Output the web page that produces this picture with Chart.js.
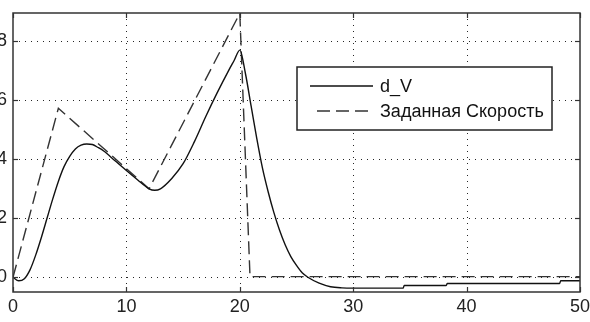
<!DOCTYPE html>
<html>
<head>
<meta charset="utf-8">
<script src="https://cdn.jsdelivr.net/npm/chart.js@4/dist/chart.umd.min.js"></script>
<style>
  html,body{margin:0;padding:0;background:#fff;overflow:hidden;width:590px;height:322px;}
  #wrap{position:absolute;left:-40px;top:0;width:660px;height:322px;}
</style>
</head>
<body>
<div id="wrap"><canvas id="c" width="660" height="322"></canvas></div>
<script>
// ---- data ----
const tSolid = [0,0.5,1,1.5,2,2.5,3,3.5,4,4.5,5,5.5,6,6.5,7,7.5,8,9,10,11,12,12.5,13,14,15,16,17,18,19,19.5,20,20.5,21,21.5,22,22.5,23,23.5,24,24.5,25,25.5,26,27,28,29,30,34.4,34.5,38.2,38.3,48.2,48.3,50];
const vSolid = [0,-0.012,-0.005,0.025,0.075,0.135,0.2,0.265,0.325,0.375,0.41,0.435,0.448,0.452,0.45,0.44,0.428,0.395,0.362,0.33,0.3,0.295,0.3,0.335,0.385,0.46,0.545,0.625,0.7,0.735,0.77,0.69,0.58,0.47,0.37,0.29,0.22,0.16,0.11,0.07,0.04,0.015,0.0,-0.02,-0.032,-0.036,-0.037,-0.037,-0.028,-0.028,-0.021,-0.021,-0.012,-0.012];
const tRef = [0,4,12,20,20.9,50];
const vRef = [0.0,0.573,0.3,0.895,0.002,0.002];
const seriesLabels = ['d_V','Заданная Скорость'];
const xTicks = [0,10,20,30,40,50];
const xTickLabels = ['0','10','20','30','40','50'];
const yTicks = [0,0.2,0.4,0.6,0.8];
const yTickLabels = ['0','0.2','0.4','0.6','0.8'];

const FONT = '"Liberation Sans",Arial,sans-serif';
// pick a narrow face if one exists, otherwise a smaller regular size
let STRETCH = 'normal', FSIZE = 18;
(function(){
  const t = document.createElement('canvas').getContext('2d');
  t.font = '20px ' + FONT;
  const wN = t.measureText(seriesLabels[1]).width;
  if ('fontStretch' in t) {
    t.fontStretch = 'condensed';
    t.font = '20px ' + FONT;
    const wC = t.measureText(seriesLabels[1]).width;
    if (wC < wN * 0.92) { STRETCH = 'condensed'; FSIZE = 20; }
  }
})();

const toPts = (xs, ys) => xs.map((x,i)=>({x:x,y:ys[i]}));

const matlabAxes = {
  id:'matlabAxes',
  beforeDraw(chart){ if ('fontStretch' in chart.ctx) chart.ctx.fontStretch = STRETCH; },
  beforeDatasetsDraw(chart){
    const {ctx, chartArea:a, scales:{x,y}} = chart;
    ctx.save();
    ctx.strokeStyle = 'rgba(0,0,0,0.85)';
    ctx.lineWidth = 1;
    ctx.setLineDash([1,5]);
    xTicks.forEach(v=>{
      const px = Math.round(x.getPixelForValue(v))+0.5;
      if (px <= a.left+1 || px >= a.right-1) return;
      ctx.beginPath(); ctx.moveTo(px,a.top); ctx.lineTo(px,a.bottom); ctx.stroke();
    });
    yTicks.forEach(v=>{
      const py = Math.round(y.getPixelForValue(v))+0.5;
      ctx.beginPath(); ctx.moveTo(a.left,py); ctx.lineTo(a.right,py); ctx.stroke();
    });
    ctx.restore();
  },
  afterDatasetsDraw(chart){
    const {ctx, chartArea:a, scales:{x,y}} = chart;
    ctx.save();
    ctx.setLineDash([]);
    ctx.strokeStyle = '#333';
    ctx.lineWidth = 1.5;
    ctx.strokeRect(a.left, a.top, a.right-a.left, a.bottom-a.top);
    ctx.lineWidth = 1.2;
    const tl = 5;
    xTicks.forEach(v=>{
      const px = Math.round(x.getPixelForValue(v))+0.5;
      ctx.beginPath(); ctx.moveTo(px,a.bottom); ctx.lineTo(px,a.bottom-tl); ctx.stroke();
      ctx.beginPath(); ctx.moveTo(px,a.top); ctx.lineTo(px,a.top+tl); ctx.stroke();
    });
    yTicks.forEach(v=>{
      const py = Math.round(y.getPixelForValue(v))+0.5;
      ctx.beginPath(); ctx.moveTo(a.left,py); ctx.lineTo(a.left+tl,py); ctx.stroke();
      ctx.beginPath(); ctx.moveTo(a.right,py); ctx.lineTo(a.right-tl,py); ctx.stroke();
    });
    // legend
    const bx = 337, by = 67, bw = 255, bh = 63;
    ctx.fillStyle = '#fff';
    ctx.fillRect(bx,by,bw,bh);
    ctx.strokeStyle = '#222';
    ctx.lineWidth = 1.5;
    ctx.strokeRect(bx,by,bw,bh);
    const ds = chart.data.datasets;
    const rows = [86, 111];
    ds.forEach((d,i)=>{
      ctx.strokeStyle = d.borderColor;
      ctx.lineWidth = d.borderWidth;
      ctx.setLineDash(d.borderDash || []);
      ctx.beginPath();
      ctx.moveTo(i===0?350:357, rows[i]); ctx.lineTo(413, rows[i]); ctx.stroke();
      ctx.setLineDash([]);
      ctx.fillStyle = '#111';
      ctx.font = FSIZE + 'px ' + FONT;
      ctx.textAlign = 'left';
      ctx.textBaseline = 'middle';
      ctx.fillText(d.label, 420, rows[i]+1);
    });
    ctx.restore();
  }
};

new Chart(document.getElementById('c'), {
  type:'line',
  data:{
    datasets:[
      {label:seriesLabels[0], data:toPts(tSolid,vSolid), borderColor:'#111', borderWidth:1.4,
       pointRadius:0, fill:false, cubicInterpolationMode:'monotone'},
      {label:seriesLabels[1], data:toPts(tRef,vRef), borderColor:'#333', borderWidth:1.4,
       borderDash:[13,6], pointRadius:0, fill:false, tension:0}
    ]
  },
  options:{
    responsive:false, animation:false, devicePixelRatio:1,
    layout:{padding:{left:0,right:40,top:13,bottom:0}},
    plugins:{legend:{display:false}, tooltip:{enabled:false}},
    scales:{
      x:{type:'linear', min:0, max:50,
         grid:{display:false, drawTicks:false}, border:{display:false},
         afterBuildTicks:s=>{s.ticks = xTicks.map(v=>({value:v}));},
         afterFit:s=>{s.height = 30; s.paddingLeft = 0; s.paddingRight = 0;},
         ticks:{padding:4, color:'#222', font:{family:FONT,size:FSIZE},
                maxRotation:0, autoSkip:false,
                callback:(v)=>{const i=xTicks.indexOf(v); return i>=0?xTickLabels[i]:'';}}},
      y:{type:'linear', min:-0.05, max:0.896,
         grid:{display:false, drawTicks:false}, border:{display:false},
         afterBuildTicks:s=>{s.ticks = yTicks.map(v=>({value:v}));},
         afterFit:s=>{s.width = 53; s.paddingTop = 0; s.paddingBottom = 0;},
         ticks:{padding:6, color:'#222', font:{family:FONT,size:FSIZE}, autoSkip:false,
                callback:(v)=>{const i=yTicks.findIndex(t=>Math.abs(t-v)<1e-9); return i>=0?yTickLabels[i]:'';}}}
    }
  },
  plugins:[matlabAxes]
});
</script>
</body>
</html>
